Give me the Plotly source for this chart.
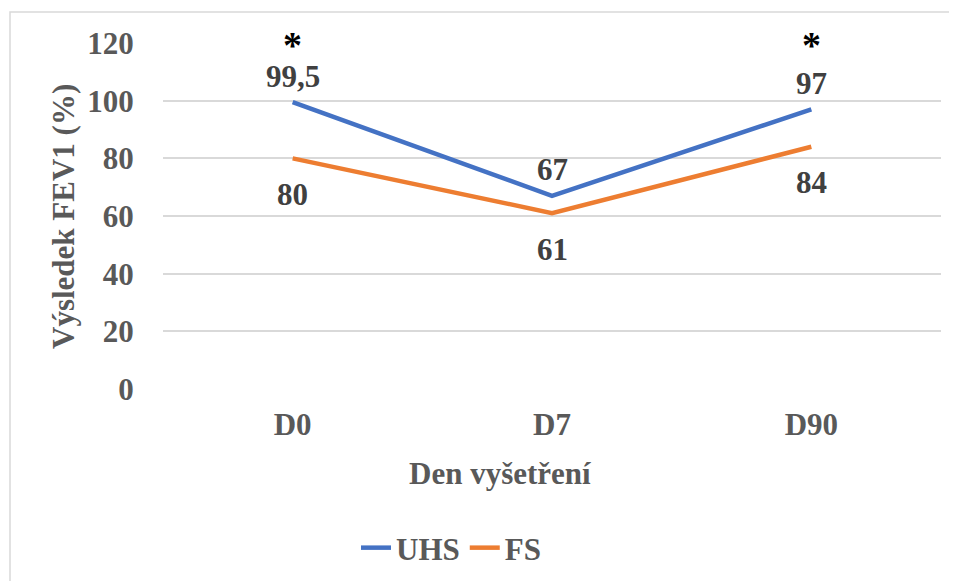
import plotly.graph_objects as go

categories = ["D0", "D7", "D90"]
uhs_values = [99.5, 67, 97]
fs_values = [80, 61, 84]
uhs_labels = ["99,5", "67", "97"]
fs_labels = ["80", "61", "84"]
star_categories = ["D0", "D90"]
y_ticks = [0, 20, 40, 60, 80, 100, 120]

FONT = "Liberation Serif"
GRAY = "#595959"
LABEL = "#404040"
FS_ = 31

# page body has an 8px default margin, so the figure is laid out 8px smaller
OFF = 8
W, H = 957 - OFF, 581 - OFF


def f(size=FS_, color=GRAY):
    return dict(family=FONT, size=size, color=color, weight="bold")


L, R, T, B = 163 - OFF, 941 - OFF, 43 - OFF, 389 - OFF
PW, PH = R - L, B - T


def px(x):
    return (x - OFF - L) / PW


def py(y):
    return (B - (y - OFF)) / PH


fig = go.Figure()
fig.add_trace(go.Scatter(x=categories, y=uhs_values, mode="lines", name="UHS",
                         line=dict(color="#4472C4", width=4.5)))
fig.add_trace(go.Scatter(x=categories, y=fs_values, mode="lines", name="FS",
                         line=dict(color="#ED7D31", width=4.5)))

ann = []
for c, v, t in zip(categories, uhs_values, uhs_labels):
    ann.append(dict(x=c, y=v, text=t, showarrow=False, yshift=26, font=f(color=LABEL)))
for c, v, t in zip(categories, fs_values, fs_labels):
    ann.append(dict(x=c, y=v, text=t, showarrow=False, yshift=-36, font=f(color=LABEL)))
for c in star_categories:
    ann.append(dict(x=c, y=120, text="*", showarrow=False, yshift=-2,
                    font=f(size=38, color="black")))
ann.append(dict(xref="paper", yref="paper", x=px(500), y=py(474),
                xanchor="center", yanchor="middle",
                text="Den vyšetření", showarrow=False, font=f()))
ann.append(dict(xref="paper", yref="paper", x=px(63), y=py(217),
                xanchor="center", yanchor="middle",
                text="Výsledek FEV1 (%)", textangle=-90, showarrow=False, font=f()))

fig.update_layout(
    width=W, height=H,
    margin=dict(l=L, r=W - R, t=T, b=H - B, autoexpand=False),
    paper_bgcolor="white", plot_bgcolor="white",
    showlegend=True,
    legend=dict(orientation="h", x=px(356), xanchor="left",
                y=py(548), yanchor="middle",
                font=f(), itemwidth=30, tracegroupgap=0),
    annotations=ann,
    shapes=[dict(type="rect", xref="paper", yref="paper",
                 x0=px(10), x1=px(1100),
                 y0=py(700), y1=py(12),
                 line=dict(color="#D9D9D9", width=1.5), layer="below")],
)
fig.update_xaxes(type="category", range=[-0.5, 2.5], showgrid=False, zeroline=False,
                 showline=False, automargin=False,
                 ticks="outside", ticklen=8, tickcolor="rgba(0,0,0,0)",
                 tickfont=f())
fig.update_yaxes(range=[0, 120], tickvals=y_ticks, automargin=False,
                 showgrid=True, gridcolor="#D9D9D9", gridwidth=1.5, zeroline=False,
                 ticks="outside", ticklen=22, tickcolor="rgba(0,0,0,0)",
                 tickfont=f())
fig.write_html("out.html")
